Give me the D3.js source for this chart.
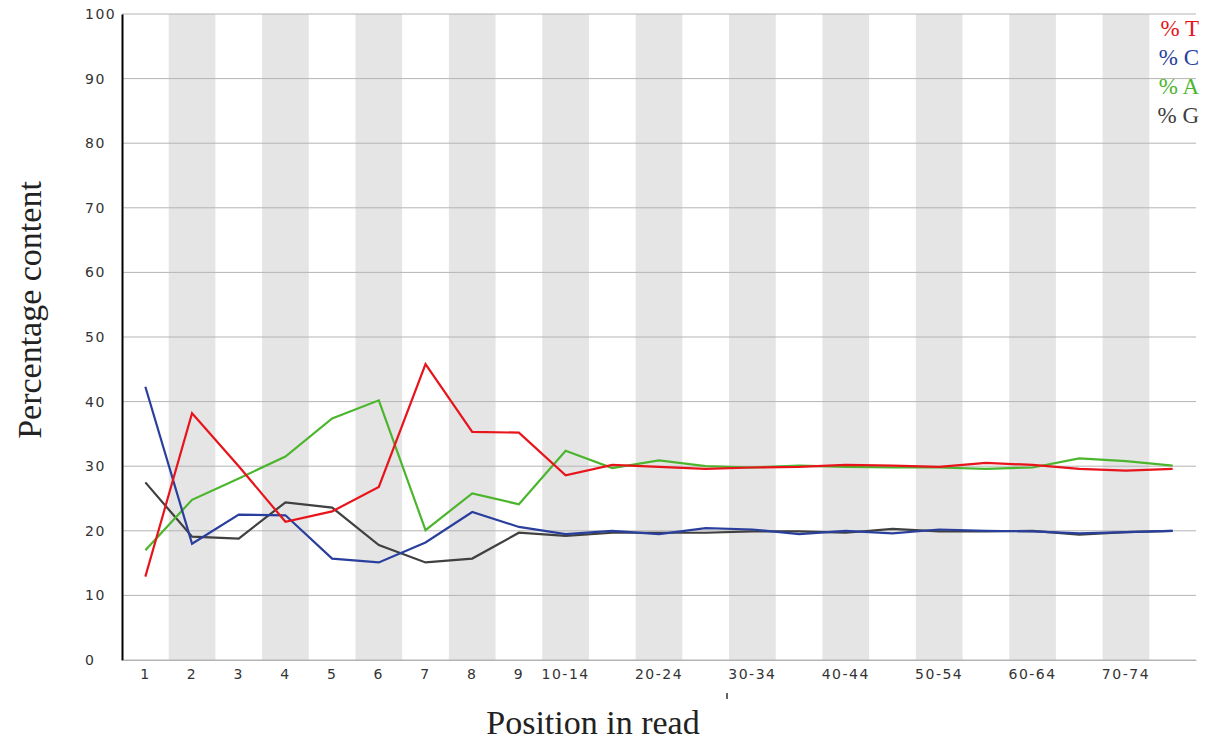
<!DOCTYPE html>
<html>
<head>
<meta charset="utf-8">
<script src="https://cdn.jsdelivr.net/npm/d3@7"></script>
<style>
  body { margin: 0; background: #fff; }
</style>
</head>
<body>
<div id="chart"></div>
<script>
// Positions in read (FastQC per base sequence content)
const positions = ["1","2","3","4","5","6","7","8","9","10-14","15-19","20-24","25-29","30-34","35-39","40-44","45-49","50-54","55-59","60-64","65-69","70-74","75-79"];
const tickLabels = ["1","2","3","4","5","6","7","8","9","10-14","20-24","30-34","40-44","50-54","60-64","70-74"];

const pctT = [12.9,38.2,30.0,21.4,23.0,26.8,45.8,35.3,35.2,28.6,30.2,29.9,29.6,29.8,29.9,30.2,30.1,29.9,30.5,30.2,29.6,29.3,29.6];
const pctC = [42.3,18.0,22.5,22.4,15.7,15.1,18.2,22.9,20.6,19.5,20.0,19.5,20.4,20.2,19.5,20.0,19.6,20.2,20.0,19.9,19.6,19.8,20.0];
const pctA = [17.0,24.8,28.1,31.5,37.4,40.2,20.1,25.8,24.1,32.4,29.7,30.9,30.0,29.8,30.1,29.9,29.8,29.8,29.6,29.8,31.2,30.8,30.1];
const pctG = [27.5,19.1,18.8,24.4,23.6,17.8,15.1,15.7,19.7,19.2,19.7,19.7,19.7,19.9,19.9,19.7,20.3,19.9,19.9,20.0,19.4,19.8,20.0];

const seriesNames = ["% T","% C","% A","% G"];
const seriesColors = ["#e8141c","#2a3f9d","#4cb52e","#404040"];
const yTicks = [0,10,20,30,40,50,60,70,80,90,100];

const W = 1209, H = 744;
const margin = {top: 14, right: 13, bottom: 84, left: 122};
const width = W - margin.left - margin.right,
      height = H - margin.top - margin.bottom;

const svg = d3.select("#chart")
  .append("svg")
    .attr("width", W)
    .attr("height", H)
  .append("g")
    .attr("transform", "translate(" + margin.left + "," + margin.top + ")");

const x = d3.scaleBand()
  .domain(positions)
  .range([0, width]);

const y = d3.scaleLinear()
  .domain([0, 100])
  .range([height, 0]);

// alternating bands
svg.selectAll("rect.band")
  .data(positions.filter((d, i) => i % 2 === 1))
  .enter()
  .append("rect")
    .attr("class", "band")
    .attr("x", d => x(d))
    .attr("y", 0)
    .attr("width", x.bandwidth())
    .attr("height", height)
    .style("fill", "#e5e5e5");

// horizontal grid
svg.selectAll("line.grid")
  .data(yTicks)
  .enter()
  .append("line")
    .attr("class", "grid")
    .attr("x1", 0)
    .attr("x2", width)
    .attr("y1", d => y(d))
    .attr("y2", d => y(d))
    .attr("stroke", "#b4b4b4")
    .attr("stroke-width", 1);

// y axis (labels left aligned, like the original)
const yAxis = svg.append("g")
  .call(d3.axisLeft(y).tickValues(yTicks).tickSize(0));
yAxis.select(".domain").attr("stroke", "#000").attr("stroke-width", 2);
yAxis.selectAll("text")
  .attr("x", -37)
  .attr("text-anchor", "start")
  .style("font-family", "DejaVu Sans, Verdana, sans-serif")
  .style("font-size", "14px")
  .style("letter-spacing", "1.5px")
  .style("fill", "#333");

// x axis
const xAxis = svg.append("g")
  .attr("transform", "translate(0," + height + ")")
  .call(d3.axisBottom(x).tickValues(tickLabels).tickSize(0).tickPadding(9));
xAxis.select(".domain").attr("stroke", "#b4b4b4");
xAxis.selectAll("text")
  .style("font-family", "DejaVu Sans, Verdana, sans-serif")
  .style("font-size", "14px")
  .style("letter-spacing", "1.5px")
  .style("fill", "#333");

// lines
const allSeries = [pctT, pctC, pctA, pctG];
const line = d3.line()
  .x((d, i) => x(positions[i]) + x.bandwidth() / 2)
  .y(d => y(d));

[3, 2, 1, 0].forEach(k => {
  svg.append("path")
    .datum(allSeries[k])
    .attr("d", line)
    .attr("fill", "none")
    .attr("stroke", seriesColors[k])
    .attr("stroke-width", 2.2);
});

// legend
svg.selectAll("text.legend")
  .data(seriesNames)
  .enter()
  .append("text")
    .attr("class", "legend")
    .attr("x", width + 3)
    .attr("y", (d, i) => 22 + i * 29)
    .attr("text-anchor", "end")
    .style("font-family", "Liberation Serif, Times New Roman, serif")
    .style("font-size", "23px")
    .style("fill", (d, i) => seriesColors[i])
    .text(d => d);

// axis titles
svg.append("text")
  .attr("transform", "translate(" + (-81) + "," + (height / 2 - 27) + ") rotate(-90)")
  .attr("text-anchor", "middle")
  .style("font-family", "Liberation Serif, Times New Roman, serif")
  .style("font-size", "34px")
  .style("fill", "#222")
  .text("Percentage content");

svg.append("text")
  .attr("x", 471)
  .attr("y", height + 74)
  .attr("text-anchor", "middle")
  .style("font-family", "Liberation Serif, Times New Roman, serif")
  .style("font-size", "34px")
  .style("fill", "#222")
  .text("Position in read");

// small stray tick mark under the axis
svg.append("line")
  .attr("x1", 605).attr("x2", 605)
  .attr("y1", height + 33).attr("y2", height + 39)
  .attr("stroke", "#333")
  .attr("stroke-width", 1.5);
</script>
</body>
</html>
